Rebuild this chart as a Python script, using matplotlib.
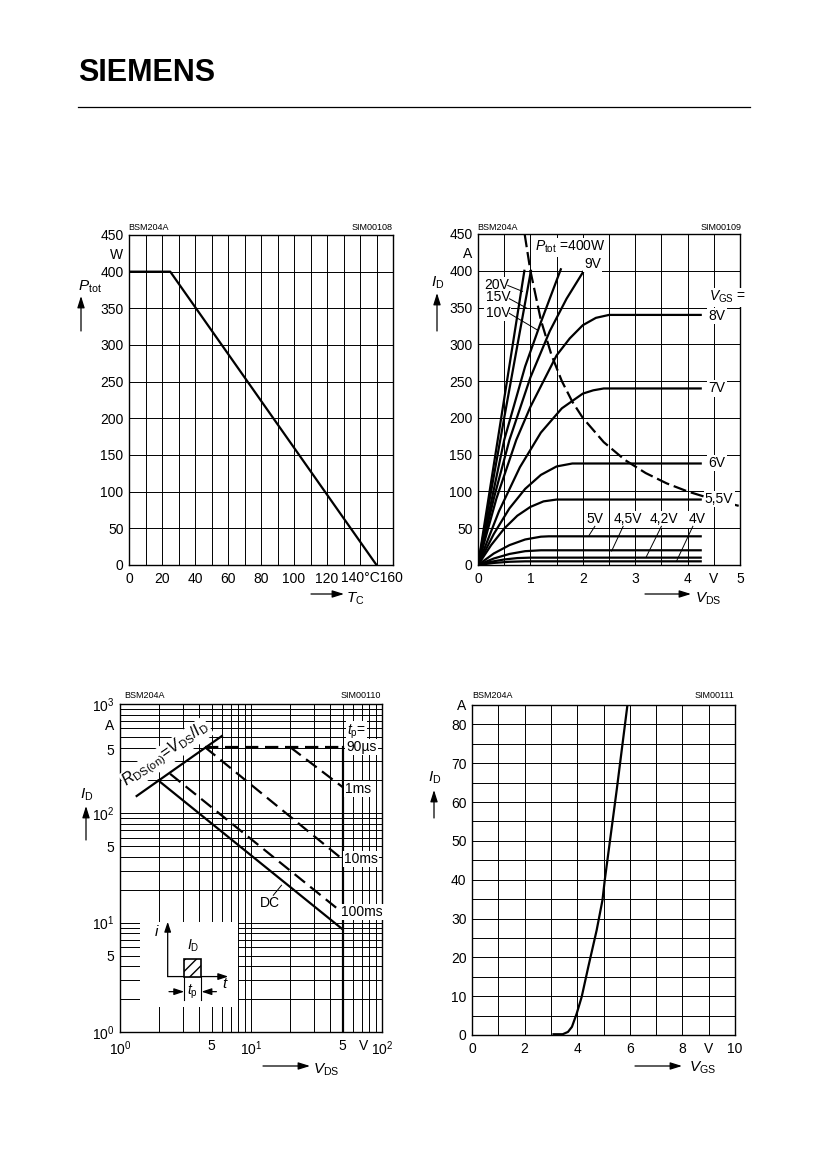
import matplotlib
matplotlib.use("Agg")
import matplotlib.pyplot as plt
from matplotlib.lines import Line2D
from matplotlib.patches import Rectangle, FancyArrowPatch
from matplotlib.ticker import MultipleLocator, LogLocator, FixedLocator, NullFormatter

plt.rcParams['font.family'] = ['Liberation Sans', 'DejaVu Sans']
plt.rcParams['mathtext.fontset'] = 'custom'
plt.rcParams['mathtext.rm'] = 'Liberation Sans'
plt.rcParams['mathtext.it'] = 'Liberation Sans:italic'
plt.rcParams['mathtext.bf'] = 'Liberation Sans:bold'

W, H = 826, 1169  # page in pixels

# ---- power dissipation Ptot = f(Tc)
tc_deg = [0, 25, 150]
ptot_w = [400, 400, 0]

# ---- output characteristics ID = f(VDS), one curve per VGS
v_40 = [0, 0.3, 0.6, 0.9, 4.25]
i_40 = [0, 2.8, 4.4, 5.0, 5.0]
v_42 = [0, 0.25, 0.5, 0.75, 1.0, 4.25]
i_42 = [0, 4.4, 7.5, 9.4, 10, 10]
v_45 = [0, 0.3, 0.6, 0.9, 1.2, 4.25]
i_45 = [0, 8.8, 15, 18.8, 20, 20]
v_50 = [0, 0.3, 0.6, 0.9, 1.2, 1.35, 4.25]
i_50 = [0, 15.6, 27, 34.7, 38.5, 39, 39]
v_55 = [0, 0.25, 0.5, 0.75, 1.0, 1.25, 1.5, 4.25]
i_55 = [0, 27, 49.5, 67, 79, 86.5, 89, 89]
v_60 = [0, 0.3, 0.6, 0.9, 1.2, 1.5, 1.8, 4.25]
i_60 = [0, 42, 77, 103.5, 122.5, 134, 138, 138]
v_70 = [0, 0.4, 0.8, 1.2, 1.6, 2.0, 2.2, 2.4, 4.25]
i_70 = [0, 73, 133, 180, 213, 233, 237.5, 240, 240]
v_80 = [0, 0.35, 0.73, 1.0, 1.5, 1.75, 2.0, 2.25, 2.5, 4.25]
i_80 = [0, 90, 170, 215, 285, 308, 326, 336, 340, 340]
v_90 = [0, 0.3, 0.6, 1.0, 1.37, 1.69, 2.02]
i_90 = [0, 90, 170, 255, 318, 362, 400]
v_100 = [0, 0.5, 0.9, 1.2, 1.58]
i_100 = [0, 170, 270, 330, 402]
v_150 = [0, 0.5, 1.01]
i_150 = [0, 200, 400]
v_200 = [0, 0.885]
i_200 = [0, 400]
# Ptot = 400 W limit
v_ptot = [0.89, 1.0, 1.2, 1.4, 1.6, 1.8, 2.0, 2.4, 2.8, 3.2, 3.6, 4.0, 4.5, 5.0]
i_ptot = [450, 400, 333, 286, 250, 222, 200, 167, 143, 125, 111, 100, 89, 80]

# ---- safe operating area (log-log)
rds_v = [1.34, 6.0]
rds_i = [144, 510]
dc_v = [1.96, 50]
dc_i = [200, 8.7]
t90us_v = [4.45, 50]
t90us_i = [403, 403]
t1ms_v = [19.9, 50]
t1ms_i = [403, 174]
t10ms_v = [4.45, 50]
t10ms_i = [403, 38]
t100ms_v = [2.41, 50]
t100ms_i = [230, 12.3]
vmax_v = [50, 50]
vmax_i = [1, 403]

# ---- transfer characteristic ID = f(VGS)
vgs_v = [3.1, 3.45, 3.65, 3.8, 3.98, 4.17, 4.42, 4.74, 4.96, 5.05, 5.5, 5.91]
id_a = [0.2, 0.2, 0.8, 2.1, 5.5, 9.8, 17.5, 27, 34.7, 40, 63, 85]


def box(x0, y0, x1, y1):
    return [x0 / W, 1 - y1 / H, (x1 - x0) / W, (y1 - y0) / H]


def page_text(x, y, s, **kw):
    fig.text(x / W, 1 - y / H, s, **kw)


def page_arrow(x0, y0, x1, y1):
    fig.add_artist(FancyArrowPatch((x0 / W, 1 - y0 / H), (x1 / W, 1 - y1 / H),
                                   transform=fig.transFigure,
                                   arrowstyle='-|>,head_length=7,head_width=2.2',
                                   mutation_scale=1, lw=0.9, color='k',
                                   shrinkA=0, shrinkB=0))


def style(ax, xgrid=None, ygrid=None):
    ax.tick_params(which='both', length=0, labelsize=10)
    ax.tick_params(axis='x', pad=5)
    ax.tick_params(axis='y', pad=4)
    for s in ax.spines.values():
        s.set_linewidth(1.0)
    if xgrid is not None:
        ax.xaxis.set_minor_locator(MultipleLocator(xgrid))
    if ygrid is not None:
        ax.yaxis.set_minor_locator(MultipleLocator(ygrid))
    ax.xaxis.remove_overlapping_locs = False
    ax.yaxis.remove_overlapping_locs = False
    ax.grid(False, which='major')
    ax.grid(True, which='minor', color='k', lw=0.7)
    ax.set_axisbelow(True)


fig = plt.figure(figsize=(W / 100, H / 100), dpi=100)

# header
page_text(78, 73, 'SIEMENS', fontsize=22, fontweight='bold', va='center', ha='left')
fig.add_artist(Line2D([78 / W, 750 / W], [1 - 107 / H, 1 - 107 / H], color='k', lw=0.9))

lw_c = 1.6
wb = dict(facecolor='white', edgecolor='none', pad=0.8)

# ===== top left: Ptot = f(Tc)
ax1 = fig.add_axes(box(129, 235, 393, 565))
ax1.set_xlim(0, 160)
ax1.set_ylim(0, 450)
style(ax1, 10, 50)
ax1.xaxis.set_major_locator(FixedLocator([0, 20, 40, 60, 80, 100, 120]))
ax1.set_xticklabels(['0', '20', '40', '60', '80', '100', '120'])
ax1.text(147.5, -0.04, '140°C160', transform=ax1.get_xaxis_transform(),
         ha='center', va='center', fontsize=10)
ax1.yaxis.set_major_locator(FixedLocator([0, 50, 100, 150, 200, 250, 300, 350, 400, 425, 450]))
ax1.set_yticklabels(['0', '50', '100', '150', '200', '250', '300', '350', '400', 'W', '450'])
ax1.plot(tc_deg, ptot_w, color='k', lw=lw_c)
page_text(128, 227, 'BSM204A', fontsize=6.5, ha='left', va='center')
page_text(393, 227, 'SIM00108', fontsize=6.5, ha='right', va='center')
page_text(78, 287, r'$P_{\mathrm{tot}}$', fontsize=11, ha='left', va='center')
page_arrow(81, 331, 81, 296)
page_text(346, 599, r'$T_{\mathrm{C}}$', fontsize=11, ha='left', va='center')
page_arrow(311, 594, 344, 594)

# ===== top right: ID = f(VDS)
ax2 = fig.add_axes(box(478, 234, 740, 565))
ax2.set_xlim(0, 5)
ax2.set_ylim(0, 450)
style(ax2, 0.5, 50)
ax2.xaxis.set_major_locator(FixedLocator([0, 1, 2, 3, 4, 4.5, 5]))
ax2.set_xticklabels(['0', '1', '2', '3', '4', 'V', '5'])
ax2.yaxis.set_major_locator(FixedLocator([0, 50, 100, 150, 200, 250, 300, 350, 400, 425, 450]))
ax2.set_yticklabels(['0', '50', '100', '150', '200', '250', '300', '350', '400', 'A', '450'])
out_curves = [(v_40, i_40), (v_42, i_42), (v_45, i_45), (v_50, i_50), (v_55, i_55),
              (v_60, i_60), (v_70, i_70), (v_80, i_80), (v_90, i_90), (v_100, i_100),
              (v_150, i_150), (v_200, i_200)]
for v, i in out_curves:
    ax2.plot(v, i, color='k', lw=lw_c, solid_joinstyle='round', zorder=3)
ax2.plot(v_ptot, i_ptot, color='k', lw=lw_c, dashes=(6, 2.2), zorder=3)

ax2.text(1.08, 432, r'$P_{\mathrm{tot}}$ =400W', fontsize=10, ha='left', va='center', bbox=wb, zorder=4)
ax2.text(2.19, 409, '9V', fontsize=10, ha='center', va='center', bbox=wb, zorder=4)
for txt, (lx, ly), (x0, y0, x1, y1) in [('20V', (0.35, 381), (0.57, 380, 0.85, 372)),
                                         ('15V', (0.38, 364), (0.60, 362, 0.935, 349)),
                                         ('10V', (0.38, 343), (0.60, 342, 1.145, 319))]:
    ax2.text(lx, ly, txt, fontsize=10, ha='center', va='center', bbox=wb, zorder=4)
    ax2.plot([x0, x1], [y0, y1], color='k', lw=0.7, zorder=4)
ax2.text(4.41, 364, r'$V_{\mathrm{GS}}$ =', fontsize=10, ha='left', va='center', bbox=wb, zorder=4)
for txt, y in [('8V', 338.5), ('7V', 240), ('6V', 138.7)]:
    ax2.text(4.4, y, txt, fontsize=10, ha='left', va='center', bbox=wb, zorder=4)
ax2.text(4.33, 89.3, '5,5V', fontsize=10, ha='left', va='center', bbox=wb, zorder=4)
for txt, lx, (x0, y0, x1, y1) in [('5V', 2.23, (2.23, 52.6, 2.12, 40.4)),
                                  ('4,5V', 2.86, (2.77, 52.6, 2.55, 19)),
                                  ('4,2V', 3.55, (3.5, 52.6, 3.21, 10.9)),
                                  ('4V', 4.18, (4.10, 52.6, 3.79, 5.4))]:
    ax2.text(lx, 62, txt, fontsize=10, ha='center', va='center', bbox=wb, zorder=4)
    ax2.plot([x0, x1], [y0, y1], color='k', lw=0.7, zorder=4)
page_text(477, 227, 'BSM204A', fontsize=6.5, ha='left', va='center')
page_text(742, 227, 'SIM00109', fontsize=6.5, ha='right', va='center')
page_text(431, 283, r'$I_{\mathrm{D}}$', fontsize=11, ha='left', va='center')
page_arrow(437, 331, 437, 293)
page_text(695, 599, r'$V_{\mathrm{DS}}$', fontsize=11, ha='left', va='center')
page_arrow(645, 594, 691, 594)

# ===== bottom left: safe operating area
ax3 = fig.add_axes(box(120, 704, 382, 1032))
ax3.set_xscale('log')
ax3.set_yscale('log')
ax3.set_xlim(1, 100)
ax3.set_ylim(1, 1000)
ax3.tick_params(which='both', length=0, labelsize=10)
ax3.tick_params(axis='x', pad=5)
ax3.tick_params(axis='y', pad=4)
for s in ax3.spines.values():
    s.set_linewidth(1.0)
for axis in (ax3.xaxis, ax3.yaxis):
    axis.set_minor_locator(LogLocator(base=10, subs=range(1, 10), numticks=20))
    axis.set_minor_formatter(NullFormatter())
    axis.remove_overlapping_locs = False
ax3.xaxis.set_major_locator(FixedLocator([1, 5, 10, 50, 72, 100]))
ax3.set_xticklabels([r'$10^0$', '5', r'$10^1$', '5', 'V', r'$10^2$'])
# the upper "5" sits a little low in the original drawing
ax3.yaxis.set_major_locator(FixedLocator([1, 5, 10, 50, 100, 380, 650, 1000]))
ax3.set_yticklabels([r'$10^0$', '5', r'$10^1$', '5', r'$10^2$', '5', 'A', r'$10^3$'])
ax3.grid(False, which='major')
ax3.grid(True, which='minor', color='k', lw=0.7)
ax3.set_axisbelow(True)

# blank field for the pulse sketch
ax3.add_patch(Rectangle((1.42, 1.69), 8 - 1.42, 10.1 - 1.69, facecolor='white',
                        edgecolor='none', zorder=1))

dash = (6, 3)
ax3.plot(rds_v, rds_i, color='k', lw=lw_c, zorder=3)
ax3.plot(dc_v, dc_i, color='k', lw=lw_c, zorder=3)
ax3.plot(vmax_v, vmax_i, color='k', lw=lw_c, zorder=3)
ax3.plot(t90us_v, t90us_i, color='k', lw=lw_c, dashes=dash, zorder=3)
ax3.plot(t1ms_v, t1ms_i, color='k', lw=lw_c, dashes=dash, zorder=3)
ax3.plot(t10ms_v, t10ms_i, color='k', lw=lw_c, dashes=dash, zorder=3)
ax3.plot(t100ms_v, t100ms_i, color='k', lw=lw_c, dashes=dash, zorder=3)

ax3.text(2.25, 345, r'$R_{\mathrm{DS(on)}}$=$V_{\mathrm{DS}}$/$I_{\mathrm{D}}$', fontsize=11.5,
         rotation=35, ha='center', va='center',
         bbox=dict(facecolor='white', edgecolor='none', pad=0.3), zorder=4)
ax3.text(64, 560, r'$t_{\mathrm{p}}$=', fontsize=10, ha='center', va='center', bbox=wb, zorder=4)
ax3.text(70, 403, '90µs', fontsize=10, ha='center', va='center', bbox=wb, zorder=4)
ax3.text(66, 168, '1ms', fontsize=10, ha='center', va='center', bbox=wb, zorder=4)
ax3.text(69, 38, '10ms', fontsize=10, ha='center', va='center', bbox=wb, zorder=4)
ax3.text(70, 12.6, '100ms', fontsize=10, ha='center', va='center', bbox=wb, zorder=4)
ax3.text(14, 15, 'DC', fontsize=10, ha='center', va='center', bbox=wb, zorder=4)
ax3.plot([14.8, 17.1], [17.8, 22], color='k', lw=0.7, zorder=4)

# pulse sketch, in axes fractions
hd = dict(arrowstyle='-|>,head_length=0.6,head_width=0.2', lw=0.9, color='k',
          shrinkA=0, shrinkB=0, mutation_scale=10)
ax3.annotate('', xy=(0.182, 0.336), xytext=(0.182, 0.169), xycoords='axes fraction',
             arrowprops=hd, zorder=5)
ax3.annotate('', xy=(0.413, 0.169), xytext=(0.182, 0.169), xycoords='axes fraction',
             arrowprops=hd, zorder=5)
ax3.annotate('', xy=(0.245, 0.123), xytext=(0.187, 0.123), xycoords='axes fraction',
             arrowprops=hd, zorder=5)
ax3.annotate('', xy=(0.311, 0.123), xytext=(0.368, 0.123), xycoords='axes fraction',
             arrowprops=hd, zorder=5)
ax3.add_patch(Rectangle((0.245, 0.169), 0.066, 0.053, transform=ax3.transAxes,
                        facecolor='white', edgecolor='k', hatch='///', lw=1.2, zorder=5))
for xf in (0.245, 0.311):
    ax3.plot([xf, xf], [0.169, 0.098], transform=ax3.transAxes, color='k', lw=0.8, zorder=5)
ax3.text(0.140, 0.306, '$i$', transform=ax3.transAxes, fontsize=11, ha='center', va='center', zorder=5)
ax3.text(0.401, 0.146, '$t$', transform=ax3.transAxes, fontsize=11, ha='center', va='center', zorder=5)
ax3.text(0.280, 0.262, r'$I_{\mathrm{D}}$', transform=ax3.transAxes, fontsize=10,
         ha='center', va='center', zorder=5)
ax3.text(0.278, 0.123, r'$t_{\mathrm{p}}$', transform=ax3.transAxes, fontsize=10,
         ha='center', va='center', zorder=5)

page_text(124, 696, 'BSM204A', fontsize=6.5, ha='left', va='center')
page_text(381, 696, 'SIM00110', fontsize=6.5, ha='right', va='center')
page_text(80, 795, r'$I_{\mathrm{D}}$', fontsize=11, ha='left', va='center')
page_arrow(86, 840, 86, 806)
page_text(313, 1070, r'$V_{\mathrm{DS}}$', fontsize=11, ha='left', va='center')
page_arrow(263, 1066, 310, 1066)

# ===== bottom right: transfer characteristic
ax4 = fig.add_axes(box(472, 705, 735, 1035))
ax4.set_xlim(0, 10)
ax4.set_ylim(0, 85)
style(ax4, 1, 5)
ax4.xaxis.set_major_locator(FixedLocator([0, 2, 4, 6, 8, 9, 10]))
ax4.set_xticklabels(['0', '2', '4', '6', '8', 'V', '10'])
ax4.yaxis.set_major_locator(FixedLocator([0, 10, 20, 30, 40, 50, 60, 70, 80, 85]))
ax4.set_yticklabels(['0', '10', '20', '30', '40', '50', '60', '70', '80', 'A'])
ax4.plot(vgs_v, id_a, color='k', lw=lw_c, solid_joinstyle='round', zorder=3)
page_text(472, 695, 'BSM204A', fontsize=6.5, ha='left', va='center')
page_text(734, 695, 'SIM00111', fontsize=6.5, ha='right', va='center')
page_text(428, 778, r'$I_{\mathrm{D}}$', fontsize=11, ha='left', va='center')
page_arrow(434, 818, 434, 790)
page_text(689, 1068, r'$V_{\mathrm{GS}}$', fontsize=11, ha='left', va='center')
page_arrow(635, 1066, 682, 1066)

fig.savefig('out.png', dpi=100)
